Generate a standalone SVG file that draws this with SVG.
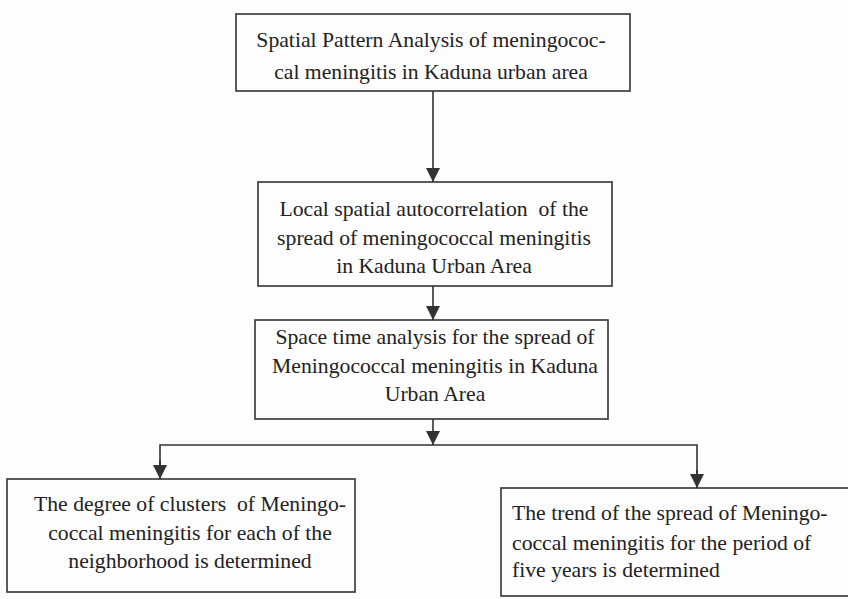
<svg xmlns="http://www.w3.org/2000/svg" width="848" height="599" viewBox="0 0 848 599">
<style>
.box{fill:none;stroke:#333;stroke-width:1.6}
.t{font-family:"Liberation Serif","Times New Roman",serif;font-size:21.7px;fill:#222}
.c{text-anchor:middle}
.ln{fill:none;stroke:#333;stroke-width:1.6}
</style>
<defs>
<marker id="ah" markerUnits="userSpaceOnUse" markerWidth="15" markerHeight="14" refX="14" refY="7" orient="auto" viewBox="0 0 15 14">
<path d="M0,0 L14,7 L0,14 Z" fill="#333"/>
</marker>
</defs>
<rect width="848" height="599" fill="#fdfdfd"/>
<g id="connectors">
<line class="ln" x1="433" y1="91" x2="433" y2="182" marker-end="url(#ah)"/>
<line class="ln" x1="433" y1="286" x2="433" y2="320" marker-end="url(#ah)"/>
<line class="ln" x1="433" y1="419" x2="433" y2="445" marker-end="url(#ah)"/>
<polyline class="ln" points="160,479 160,445 697,445 697,488"/>
<line class="ln" x1="160" y1="460" x2="160" y2="479" marker-end="url(#ah)"/>
<line class="ln" x1="697" y1="470" x2="697" y2="488" marker-end="url(#ah)"/>
</g>
<g id="n1">
<rect class="box" x="236" y="14" width="394" height="77"/>
<text class="t c" x="431" y="47">Spatial Pattern Analysis of meningococ-</text>
<text class="t c" x="431" y="79">cal meningitis in Kaduna urban area</text>
</g>
<g id="n2">
<rect class="box" x="258" y="182" width="354" height="104"/>
<text class="t c" x="434" y="216" xml:space="preserve">Local spatial autocorrelation  of the</text>
<text class="t c" x="434" y="245">spread of meningococcal meningitis</text>
<text class="t c" x="434" y="273">in Kaduna Urban Area</text>
</g>
<g id="n3">
<rect class="box" x="255" y="320" width="353" height="99"/>
<text class="t c" x="435" y="344">Space time analysis for the spread of</text>
<text class="t c" x="435" y="373">Meningococcal meningitis in Kaduna</text>
<text class="t c" x="435" y="401">Urban Area</text>
</g>
<g id="n4">
<rect class="box" x="7" y="479" width="348" height="113"/>
<text class="t c" x="190" y="511" xml:space="preserve">The degree of clusters  of Meningo-</text>
<text class="t c" x="190" y="540">coccal meningitis for each of the</text>
<text class="t c" x="190" y="568">neighborhood is determined</text>
</g>
<g id="n5">
<rect class="box" x="501" y="488" width="360" height="108"/>
<text class="t" x="512" y="520">The trend of the spread of Meningo-</text>
<text class="t" x="512" y="550">coccal meningitis for the period of</text>
<text class="t" x="512" y="577">five years is determined</text>
</g>
</svg>
